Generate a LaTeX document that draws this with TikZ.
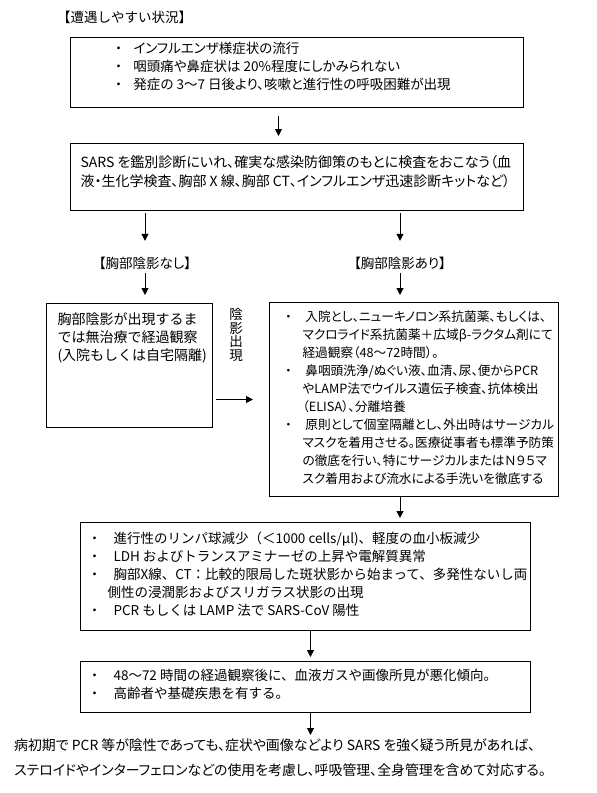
\documentclass[tikz,border=0pt]{standalone}
\usepackage{fontspec}
\setmainfont{Noto Sans CJK JP}[RawFeature=+palt]
\newfontfamily\jpmono{Noto Sans CJK JP}
\usetikzlibrary{arrows.meta}

% box contents: width, height, top gap, text column, lines
\newcommand{\boxbody}[5]{%
  \begin{minipage}[t][#2][t]{#1}%
    \vspace*{#3}\leftskip=#4\relax\rightskip=0pt minus 60pt\relax
    \parindent=0pt\exhyphenpenalty=10000\hyphenpenalty=10000
    \rule{0pt}{12pt}#5%
  \end{minipage}}
\newcommand{\bul}[1][15pt]{\llap{\makebox[0pt][c]{・}\hspace{#1}}}

\begin{document}
\begin{tikzpicture}[x=1pt,y=-1pt,
    box/.style={draw,line width=1pt,anchor=north west,inner sep=0pt,font=\fontsize{13.5}{18}\selectfont},
    monobox/.style={box,font=\jpmono\fontsize{13.5}{18}\selectfont},
    tag/.style={inner sep=0pt,text height=9pt,text depth=3pt,font=\fontsize{13.5}{18}\selectfont},
    arr/.style={-{Triangle[length=7pt,width=7pt]},line width=1pt}]

    \useasboundingbox (0,0) rectangle (597,793);

    \node[anchor=west,inner sep=0pt,font=\jpmono\fontsize{13.5}{18}\selectfont] (title) at (57,17) {【遭遇しやすい状況】};

    \node[box] (cond) at (70,37) {\boxbody{453pt}{70pt}{4pt}{63pt}{%
        \bul インフルエンザ様症状の流行\\
        \bul 咽頭痛や鼻症状は 20\%程度にしかみられない\\
        \bul 発症の 3〜7 日後より、咳嗽と進行性の呼吸困難が出現}};

    \node[box,font=\fontsize{14}{19}\selectfont] (exam) at (70,143) {\boxbody{453pt}{67pt}{12pt}{10pt}{%
        SARS を鑑別診断にいれ、確実な感染防御策のもとに検査をおこなう（血\\
        液・生化学検査、胸部 X 線、胸部 CT、インフルエンザ迅速診断キットなど）}};

    \node[tag] (lblno) at (145,265) {【胸部陰影なし】};
    \node[tag] (lblyes) at (400,265) {【胸部陰影あり】};

    \node[box,font=\jpmono\fontsize{14}{18}\selectfont] (watch) at (46,303) {\boxbody{166pt}{124pt}{9pt}{11pt}{%
        胸部陰影が出現するま\\
        では無治療で経過観察\\
        (入院もしくは自宅隔離)}};

    \node[inner sep=0pt,anchor=north,align=center,font=\jpmono\fontsize{13.5}{13.5}\selectfont] (vlabel) at (236,308) {陰\\影\\出\\現};

    \node[box,font=\fontsize{12.7}{18}\selectfont] (treat) at (269,302) {\boxbody{289pt}{194pt}{7pt}{33pt}{%
        \bul[14pt] 入院とし、ニューキノロン系抗菌薬、もしくは、\\
        マクロライド系抗菌薬＋広域β-ラクタム剤にて\\
        経過観察（48〜72時間）。\\
        \bul[14pt] 鼻咽頭洗浄/ぬぐい液、血清、尿、便からPCR\\
        やLAMP法でウイルス遺伝子検査、抗体検出\\
        （ELISA）、分離培養\\
        \bul[14pt] 原則として個室隔離とし、外出時はサージカル\\
        マスクを着用させる。医療従事者も標準予防策\\
        の徹底を行い、特にサージカルまたはＮ９５マ\\
        スク着用および流水による手洗いを徹底する}};

    \node[monobox] (labs) at (80,522) {\boxbody{450pt}{108pt}{9pt}{30pt}{%
        \bul[16pt] 進行性のリンパ球減少（＜1000 cells/μl)、軽度の血小板減少\\
        \bul[16pt] LDH およびトランスアミナーゼの上昇や電解質異常\\
        \bul[16pt] 胸部X線、CT：比較的限局した斑状影から始まって、多発性ないし両\\
        \hspace*{-3pt}側性の浸潤影およびスリガラス状影の出現\\
        \bul[16pt] PCR もしくは LAMP 法で SARS-CoV 陽性}};

    \node[monobox] (worse) at (80,661) {\boxbody{450pt}{51pt}{7pt}{30pt}{%
        \bul[16pt] 48〜72 時間の経過観察後に、血液ガスや画像所見が悪化傾向。\\
        \bul[16pt] 高齢者や基礎疾患を有する。}};

    \node[anchor=north west,inner sep=0pt,align=left,font=\fontsize{13.9}{25}\selectfont] (advice) at (14,739) {%
        病初期で PCR 等が陰性であっても、症状や画像などより SARS を強く疑う所見があれば、\\
        ステロイドやインターフェロンなどの使用を考慮し、呼吸管理、全身管理を含めて対応する。};

    \coordinate (split) at ([xshift=-18.5pt]cond.south);
    \coordinate (down) at ([xshift=5pt]labs.south);

    \path[arr]
        (split) edge[shorten <=8pt,shorten >=7pt] (split |- exam.north)
        (lblno |- exam.south) edge[shorten <=2pt,shorten >=18pt] (lblno.north)
        (lblyes |- exam.south) edge[shorten <=2pt,shorten >=18pt] (lblyes.north)
        (lblno.south) edge[shorten <=2pt,shorten >=8pt] (lblno |- watch.north)
        (lblyes.south) edge[shorten <=2pt,shorten >=7pt] (lblyes |- treat.north)
        (watch.east |- treat.west) edge[shorten <=3pt,shorten >=16pt] (treat.west)
        (lblyes |- treat.south) edge[shorten >=4pt] (lblyes |- labs.north)
        (down) edge[shorten >=4pt] (down |- worse.north)
        (down |- worse.south) edge[shorten >=4pt] (down |- advice.north)
    ;

\end{tikzpicture}
\end{document}
